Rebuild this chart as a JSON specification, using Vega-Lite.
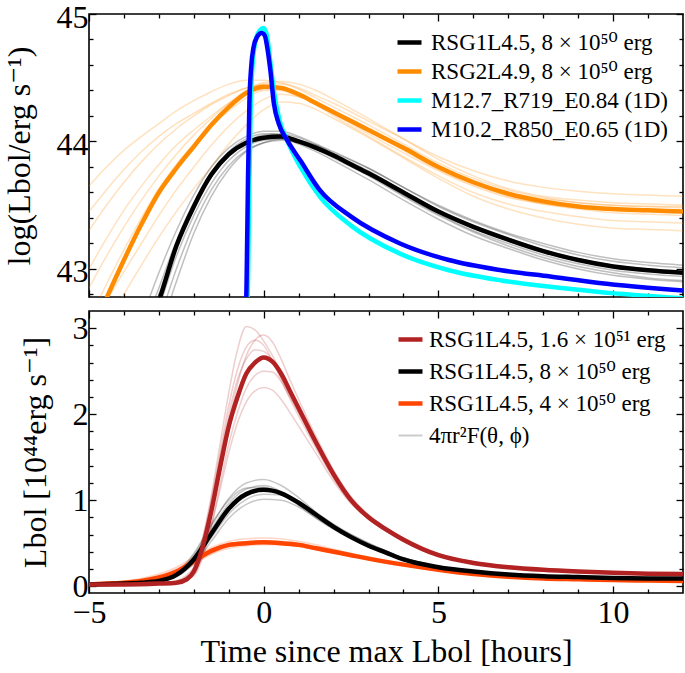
{
"$schema": "https://vega.github.io/schema/vega-lite/v6.json",
"padding": {"left": 2, "top": 0, "right": 2, "bottom": 0},
"config": {
 "view": {"stroke": "black", "strokeWidth": 1.6},
 "font": "Liberation Serif, DejaVu Serif, serif",
 "axis": {"grid": false, "domain": false, "tickColor": "black", "tickWidth": 1.3, "labelFont": "Liberation Serif, DejaVu Serif, serif", "labelFontSize": 32, "labelColor": "black", "labelFlush": false, "titleFont": "Liberation Serif, DejaVu Serif, serif", "titleFontSize": 32, "titleFontWeight": "normal", "titleColor": "black", "labelPadding": 8},
 "legend": {"orient": "top-right", "offset": 12, "padding": 2, "labelFont": "Liberation Serif, DejaVu Serif, serif", "labelFontSize": 23, "labelColor": "black", "symbolType": "stroke", "symbolSize": 576, "symbolStrokeWidth": 4.5, "symbolOpacity": 1, "labelOffset": 7, "labelLimit": 400}
},
"datasets": {
"top": [
{"series":"K8","run":"main","t":-3.5,"L":42.4},{"series":"K8","run":"main","t":-3,"L":42.75},{"series":"K8","run":"main","t":-2.5,"L":43.18},{"series":"K8","run":"main","t":-2,"L":43.49},{"series":"K8","run":"main","t":-1.5,"L":43.74},{"series":"K8","run":"main","t":-1,"L":43.9},{"series":"K8","run":"main","t":-0.5,"L":43.99},{"series":"K8","run":"main","t":0,"L":44.03},{"series":"K8","run":"main","t":0.5,"L":44.04},{"series":"K8","run":"main","t":1,"L":44.0},{"series":"K8","run":"main","t":1.5,"L":43.95},{"series":"K8","run":"main","t":2,"L":43.89},{"series":"K8","run":"main","t":2.5,"L":43.82},{"series":"K8","run":"main","t":3,"L":43.75},{"series":"K8","run":"main","t":4,"L":43.6},{"series":"K8","run":"main","t":5,"L":43.45},{"series":"K8","run":"main","t":6,"L":43.33},{"series":"K8","run":"main","t":7,"L":43.23},{"series":"K8","run":"main","t":8,"L":43.14},{"series":"K8","run":"main","t":9,"L":43.07},{"series":"K8","run":"main","t":10,"L":43.02},{"series":"K8","run":"main","t":11,"L":42.99},{"series":"K8","run":"main","t":12,"L":42.97},
{"series":"O8","run":"main","t":-5,"L":42.45},{"series":"O8","run":"main","t":-4.5,"L":42.77},{"series":"O8","run":"main","t":-4,"L":43.07},{"series":"O8","run":"main","t":-3.5,"L":43.35},{"series":"O8","run":"main","t":-3,"L":43.6},{"series":"O8","run":"main","t":-2.5,"L":43.79},{"series":"O8","run":"main","t":-2,"L":43.96},{"series":"O8","run":"main","t":-1.5,"L":44.13},{"series":"O8","run":"main","t":-1,"L":44.27},{"series":"O8","run":"main","t":-0.5,"L":44.38},{"series":"O8","run":"main","t":0,"L":44.43},{"series":"O8","run":"main","t":0.5,"L":44.42},{"series":"O8","run":"main","t":1,"L":44.37},{"series":"O8","run":"main","t":1.5,"L":44.3},{"series":"O8","run":"main","t":2,"L":44.23},{"series":"O8","run":"main","t":2.5,"L":44.16},{"series":"O8","run":"main","t":3,"L":44.09},{"series":"O8","run":"main","t":4,"L":43.95},{"series":"O8","run":"main","t":5,"L":43.8},{"series":"O8","run":"main","t":6,"L":43.68},{"series":"O8","run":"main","t":7,"L":43.59},{"series":"O8","run":"main","t":8,"L":43.53},{"series":"O8","run":"main","t":9,"L":43.49},{"series":"O8","run":"main","t":10,"L":43.47},{"series":"O8","run":"main","t":11,"L":43.46},{"series":"O8","run":"main","t":12,"L":43.45},
{"series":"C","run":"main","t":-0.5,"L":42.3},{"series":"C","run":"main","t":-0.45,"L":42.9},{"series":"C","run":"main","t":-0.41,"L":43.7},{"series":"C","run":"main","t":-0.37,"L":44.3},{"series":"C","run":"main","t":-0.32,"L":44.6},{"series":"C","run":"main","t":-0.24,"L":44.78},{"series":"C","run":"main","t":-0.12,"L":44.87},{"series":"C","run":"main","t":0,"L":44.89},{"series":"C","run":"main","t":0.1,"L":44.82},{"series":"C","run":"main","t":0.2,"L":44.6},{"series":"C","run":"main","t":0.3,"L":44.38},{"series":"C","run":"main","t":0.45,"L":44.17},{"series":"C","run":"main","t":0.7,"L":43.99},{"series":"C","run":"main","t":1.05,"L":43.8},{"series":"C","run":"main","t":1.6,"L":43.57},{"series":"C","run":"main","t":2.5,"L":43.34},{"series":"C","run":"main","t":3.9,"L":43.12},{"series":"C","run":"main","t":5.3,"L":42.99},{"series":"C","run":"main","t":6.8,"L":42.91},{"series":"C","run":"main","t":8.2,"L":42.86},{"series":"C","run":"main","t":9.6,"L":42.82},{"series":"C","run":"main","t":12,"L":42.77},
{"series":"B","run":"main","t":-0.53,"L":42.3},{"series":"B","run":"main","t":-0.49,"L":42.9},{"series":"B","run":"main","t":-0.45,"L":43.7},{"series":"B","run":"main","t":-0.41,"L":44.3},{"series":"B","run":"main","t":-0.36,"L":44.58},{"series":"B","run":"main","t":-0.29,"L":44.74},{"series":"B","run":"main","t":-0.19,"L":44.82},{"series":"B","run":"main","t":-0.06,"L":44.85},{"series":"B","run":"main","t":0.03,"L":44.83},{"series":"B","run":"main","t":0.1,"L":44.74},{"series":"B","run":"main","t":0.19,"L":44.56},{"series":"B","run":"main","t":0.29,"L":44.3},{"series":"B","run":"main","t":0.43,"L":44.14},{"series":"B","run":"main","t":0.67,"L":44.01},{"series":"B","run":"main","t":1.05,"L":43.85},{"series":"B","run":"main","t":1.6,"L":43.62},{"series":"B","run":"main","t":2.5,"L":43.41},{"series":"B","run":"main","t":3.9,"L":43.2},{"series":"B","run":"main","t":5.3,"L":43.07},{"series":"B","run":"main","t":6.8,"L":42.99},{"series":"B","run":"main","t":8.2,"L":42.94},{"series":"B","run":"main","t":9.6,"L":42.89},{"series":"B","run":"main","t":12,"L":42.83},
{"series":"O8","run":"v1","t":-5,"L":43.65},{"series":"O8","run":"v1","t":-4.5,"L":43.8},{"series":"O8","run":"v1","t":-4,"L":43.93},{"series":"O8","run":"v1","t":-3.5,"L":44.04},{"series":"O8","run":"v1","t":-3,"L":44.14},{"series":"O8","run":"v1","t":-2.5,"L":44.24},{"series":"O8","run":"v1","t":-2,"L":44.32},{"series":"O8","run":"v1","t":-1.5,"L":44.39},{"series":"O8","run":"v1","t":-1,"L":44.45},{"series":"O8","run":"v1","t":-0.5,"L":44.48},{"series":"O8","run":"v1","t":0,"L":44.48},{"series":"O8","run":"v1","t":0.5,"L":44.46},{"series":"O8","run":"v1","t":1,"L":44.42},{"series":"O8","run":"v1","t":1.5,"L":44.36},{"series":"O8","run":"v1","t":2,"L":44.3},{"series":"O8","run":"v1","t":3,"L":44.16},{"series":"O8","run":"v1","t":4,"L":44.02},{"series":"O8","run":"v1","t":5,"L":43.88},{"series":"O8","run":"v1","t":6,"L":43.77},{"series":"O8","run":"v1","t":7,"L":43.69},{"series":"O8","run":"v1","t":8,"L":43.64},{"series":"O8","run":"v1","t":9,"L":43.61},{"series":"O8","run":"v1","t":10,"L":43.59},{"series":"O8","run":"v1","t":11,"L":43.58},{"series":"O8","run":"v1","t":12,"L":43.57},
{"series":"O8","run":"v2","t":-5,"L":43.3},{"series":"O8","run":"v2","t":-4.5,"L":43.5},{"series":"O8","run":"v2","t":-4,"L":43.68},{"series":"O8","run":"v2","t":-3.5,"L":43.84},{"series":"O8","run":"v2","t":-3,"L":43.98},{"series":"O8","run":"v2","t":-2.5,"L":44.1},{"series":"O8","run":"v2","t":-2,"L":44.2},{"series":"O8","run":"v2","t":-1.5,"L":44.29},{"series":"O8","run":"v2","t":-1,"L":44.36},{"series":"O8","run":"v2","t":-0.5,"L":44.42},{"series":"O8","run":"v2","t":0,"L":44.45},{"series":"O8","run":"v2","t":0.5,"L":44.45},{"series":"O8","run":"v2","t":1,"L":44.41},{"series":"O8","run":"v2","t":1.5,"L":44.34},{"series":"O8","run":"v2","t":2,"L":44.27},{"series":"O8","run":"v2","t":3,"L":44.13},{"series":"O8","run":"v2","t":4,"L":43.98},{"series":"O8","run":"v2","t":5,"L":43.83},{"series":"O8","run":"v2","t":6,"L":43.71},{"series":"O8","run":"v2","t":7,"L":43.62},{"series":"O8","run":"v2","t":8,"L":43.56},{"series":"O8","run":"v2","t":9,"L":43.52},{"series":"O8","run":"v2","t":10,"L":43.5},{"series":"O8","run":"v2","t":11,"L":43.49},{"series":"O8","run":"v2","t":12,"L":43.49},
{"series":"O8","run":"v3","t":-5,"L":43.0},{"series":"O8","run":"v3","t":-4.5,"L":43.24},{"series":"O8","run":"v3","t":-4,"L":43.46},{"series":"O8","run":"v3","t":-3.5,"L":43.65},{"series":"O8","run":"v3","t":-3,"L":43.82},{"series":"O8","run":"v3","t":-2.5,"L":43.97},{"series":"O8","run":"v3","t":-2,"L":44.09},{"series":"O8","run":"v3","t":-1.5,"L":44.2},{"series":"O8","run":"v3","t":-1,"L":44.3},{"series":"O8","run":"v3","t":-0.5,"L":44.37},{"series":"O8","run":"v3","t":0,"L":44.41},{"series":"O8","run":"v3","t":0.5,"L":44.42},{"series":"O8","run":"v3","t":1,"L":44.38},{"series":"O8","run":"v3","t":1.5,"L":44.31},{"series":"O8","run":"v3","t":2,"L":44.24},{"series":"O8","run":"v3","t":3,"L":44.09},{"series":"O8","run":"v3","t":4,"L":43.93},{"series":"O8","run":"v3","t":5,"L":43.78},{"series":"O8","run":"v3","t":6,"L":43.66},{"series":"O8","run":"v3","t":7,"L":43.57},{"series":"O8","run":"v3","t":8,"L":43.51},{"series":"O8","run":"v3","t":9,"L":43.47},{"series":"O8","run":"v3","t":10,"L":43.44},{"series":"O8","run":"v3","t":11,"L":43.43},{"series":"O8","run":"v3","t":12,"L":43.42},
{"series":"O8","run":"v4","t":-5,"L":42.3},{"series":"O8","run":"v4","t":-4.5,"L":42.55},{"series":"O8","run":"v4","t":-4,"L":42.8},{"series":"O8","run":"v4","t":-3.5,"L":43.03},{"series":"O8","run":"v4","t":-3,"L":43.25},{"series":"O8","run":"v4","t":-2.5,"L":43.45},{"series":"O8","run":"v4","t":-2,"L":43.63},{"series":"O8","run":"v4","t":-1.5,"L":43.8},{"series":"O8","run":"v4","t":-1,"L":43.98},{"series":"O8","run":"v4","t":-0.5,"L":44.13},{"series":"O8","run":"v4","t":0,"L":44.25},{"series":"O8","run":"v4","t":0.5,"L":44.31},{"series":"O8","run":"v4","t":1,"L":44.3},{"series":"O8","run":"v4","t":1.5,"L":44.25},{"series":"O8","run":"v4","t":2,"L":44.18},{"series":"O8","run":"v4","t":3,"L":44.03},{"series":"O8","run":"v4","t":4,"L":43.87},{"series":"O8","run":"v4","t":5,"L":43.71},{"series":"O8","run":"v4","t":6,"L":43.57},{"series":"O8","run":"v4","t":7,"L":43.47},{"series":"O8","run":"v4","t":8,"L":43.4},{"series":"O8","run":"v4","t":9,"L":43.35},{"series":"O8","run":"v4","t":10,"L":43.32},{"series":"O8","run":"v4","t":11,"L":43.31},{"series":"O8","run":"v4","t":12,"L":43.3},
{"series":"O8","run":"v5","t":-5,"L":42.6},{"series":"O8","run":"v5","t":-4.5,"L":42.88},{"series":"O8","run":"v5","t":-4,"L":43.15},{"series":"O8","run":"v5","t":-3.5,"L":43.4},{"series":"O8","run":"v5","t":-3,"L":43.63},{"series":"O8","run":"v5","t":-2.5,"L":43.82},{"series":"O8","run":"v5","t":-2,"L":43.98},{"series":"O8","run":"v5","t":-1.5,"L":44.12},{"series":"O8","run":"v5","t":-1,"L":44.24},{"series":"O8","run":"v5","t":-0.5,"L":44.34},{"series":"O8","run":"v5","t":0,"L":44.4},{"series":"O8","run":"v5","t":0.5,"L":44.4},{"series":"O8","run":"v5","t":1,"L":44.35},{"series":"O8","run":"v5","t":1.5,"L":44.3},{"series":"O8","run":"v5","t":2,"L":44.22},{"series":"O8","run":"v5","t":3,"L":44.08},{"series":"O8","run":"v5","t":4,"L":43.94},{"series":"O8","run":"v5","t":5,"L":43.8},{"series":"O8","run":"v5","t":6,"L":43.68},{"series":"O8","run":"v5","t":7,"L":43.6},{"series":"O8","run":"v5","t":8,"L":43.55},{"series":"O8","run":"v5","t":9,"L":43.52},{"series":"O8","run":"v5","t":10,"L":43.5},{"series":"O8","run":"v5","t":11,"L":43.49},{"series":"O8","run":"v5","t":12,"L":43.48},
{"series":"O8","run":"v6","t":-5,"L":42.85},{"series":"O8","run":"v6","t":-4.5,"L":43.1},{"series":"O8","run":"v6","t":-4,"L":43.33},{"series":"O8","run":"v6","t":-3.5,"L":43.54},{"series":"O8","run":"v6","t":-3,"L":43.73},{"series":"O8","run":"v6","t":-2.5,"L":43.9},{"series":"O8","run":"v6","t":-2,"L":44.05},{"series":"O8","run":"v6","t":-1.5,"L":44.18},{"series":"O8","run":"v6","t":-1,"L":44.3},{"series":"O8","run":"v6","t":-0.5,"L":44.4},{"series":"O8","run":"v6","t":0,"L":44.46},{"series":"O8","run":"v6","t":0.5,"L":44.47},{"series":"O8","run":"v6","t":1,"L":44.45},{"series":"O8","run":"v6","t":1.5,"L":44.4},{"series":"O8","run":"v6","t":2,"L":44.33},{"series":"O8","run":"v6","t":3,"L":44.18},{"series":"O8","run":"v6","t":4,"L":44.02},{"series":"O8","run":"v6","t":5,"L":43.86},{"series":"O8","run":"v6","t":6,"L":43.73},{"series":"O8","run":"v6","t":7,"L":43.63},{"series":"O8","run":"v6","t":8,"L":43.57},{"series":"O8","run":"v6","t":9,"L":43.54},{"series":"O8","run":"v6","t":10,"L":43.52},{"series":"O8","run":"v6","t":11,"L":43.51},{"series":"O8","run":"v6","t":12,"L":43.5},
{"series":"O8","run":"v7","t":-5,"L":42.5},{"series":"O8","run":"v7","t":-4.5,"L":42.75},{"series":"O8","run":"v7","t":-4,"L":42.98},{"series":"O8","run":"v7","t":-3.5,"L":43.2},{"series":"O8","run":"v7","t":-3,"L":43.42},{"series":"O8","run":"v7","t":-2.5,"L":43.62},{"series":"O8","run":"v7","t":-2,"L":43.8},{"series":"O8","run":"v7","t":-1.5,"L":43.97},{"series":"O8","run":"v7","t":-1,"L":44.12},{"series":"O8","run":"v7","t":-0.5,"L":44.24},{"series":"O8","run":"v7","t":0,"L":44.33},{"series":"O8","run":"v7","t":0.5,"L":44.37},{"series":"O8","run":"v7","t":1,"L":44.35},{"series":"O8","run":"v7","t":1.5,"L":44.29},{"series":"O8","run":"v7","t":2,"L":44.2},{"series":"O8","run":"v7","t":3,"L":44.04},{"series":"O8","run":"v7","t":4,"L":43.88},{"series":"O8","run":"v7","t":5,"L":43.73},{"series":"O8","run":"v7","t":6,"L":43.6},{"series":"O8","run":"v7","t":7,"L":43.51},{"series":"O8","run":"v7","t":8,"L":43.45},{"series":"O8","run":"v7","t":9,"L":43.41},{"series":"O8","run":"v7","t":10,"L":43.38},{"series":"O8","run":"v7","t":11,"L":43.37},{"series":"O8","run":"v7","t":12,"L":43.36},
{"series":"O8","run":"v8","t":-5,"L":43.45},{"series":"O8","run":"v8","t":-4.5,"L":43.62},{"series":"O8","run":"v8","t":-4,"L":43.78},{"series":"O8","run":"v8","t":-3.5,"L":43.92},{"series":"O8","run":"v8","t":-3,"L":44.04},{"series":"O8","run":"v8","t":-2.5,"L":44.14},{"series":"O8","run":"v8","t":-2,"L":44.22},{"series":"O8","run":"v8","t":-1.5,"L":44.3},{"series":"O8","run":"v8","t":-1,"L":44.37},{"series":"O8","run":"v8","t":-0.5,"L":44.42},{"series":"O8","run":"v8","t":0,"L":44.44},{"series":"O8","run":"v8","t":0.5,"L":44.42},{"series":"O8","run":"v8","t":1,"L":44.37},{"series":"O8","run":"v8","t":1.5,"L":44.3},{"series":"O8","run":"v8","t":2,"L":44.22},{"series":"O8","run":"v8","t":3,"L":44.06},{"series":"O8","run":"v8","t":4,"L":43.91},{"series":"O8","run":"v8","t":5,"L":43.77},{"series":"O8","run":"v8","t":6,"L":43.65},{"series":"O8","run":"v8","t":7,"L":43.56},{"series":"O8","run":"v8","t":8,"L":43.51},{"series":"O8","run":"v8","t":9,"L":43.48},{"series":"O8","run":"v8","t":10,"L":43.46},{"series":"O8","run":"v8","t":11,"L":43.45},{"series":"O8","run":"v8","t":12,"L":43.44},
{"series":"K8","run":"v1","t":-3.5,"L":42.6},{"series":"K8","run":"v1","t":-3,"L":42.97},{"series":"K8","run":"v1","t":-2.5,"L":43.3},{"series":"K8","run":"v1","t":-2,"L":43.58},{"series":"K8","run":"v1","t":-1.5,"L":43.8},{"series":"K8","run":"v1","t":-1,"L":43.95},{"series":"K8","run":"v1","t":-0.5,"L":44.04},{"series":"K8","run":"v1","t":0,"L":44.08},{"series":"K8","run":"v1","t":0.5,"L":44.08},{"series":"K8","run":"v1","t":1,"L":44.04},{"series":"K8","run":"v1","t":1.5,"L":43.98},{"series":"K8","run":"v1","t":2,"L":43.92},{"series":"K8","run":"v1","t":3,"L":43.79},{"series":"K8","run":"v1","t":4,"L":43.64},{"series":"K8","run":"v1","t":5,"L":43.49},{"series":"K8","run":"v1","t":6,"L":43.37},{"series":"K8","run":"v1","t":7,"L":43.27},{"series":"K8","run":"v1","t":8,"L":43.18},{"series":"K8","run":"v1","t":9,"L":43.11},{"series":"K8","run":"v1","t":10,"L":43.06},{"series":"K8","run":"v1","t":11,"L":43.03},{"series":"K8","run":"v1","t":12,"L":43.01},
{"series":"K8","run":"v2","t":-3.5,"L":42.3},{"series":"K8","run":"v2","t":-3,"L":42.6},{"series":"K8","run":"v2","t":-2.5,"L":43.0},{"series":"K8","run":"v2","t":-2,"L":43.35},{"series":"K8","run":"v2","t":-1.5,"L":43.62},{"series":"K8","run":"v2","t":-1,"L":43.81},{"series":"K8","run":"v2","t":-0.5,"L":43.93},{"series":"K8","run":"v2","t":0,"L":43.99},{"series":"K8","run":"v2","t":0.5,"L":44.01},{"series":"K8","run":"v2","t":1,"L":43.99},{"series":"K8","run":"v2","t":1.5,"L":43.94},{"series":"K8","run":"v2","t":2,"L":43.88},{"series":"K8","run":"v2","t":3,"L":43.74},{"series":"K8","run":"v2","t":4,"L":43.58},{"series":"K8","run":"v2","t":5,"L":43.43},{"series":"K8","run":"v2","t":6,"L":43.3},{"series":"K8","run":"v2","t":7,"L":43.2},{"series":"K8","run":"v2","t":8,"L":43.11},{"series":"K8","run":"v2","t":9,"L":43.04},{"series":"K8","run":"v2","t":10,"L":42.99},{"series":"K8","run":"v2","t":11,"L":42.96},{"series":"K8","run":"v2","t":12,"L":42.94},
{"series":"K8","run":"v3","t":-3.5,"L":42.5},{"series":"K8","run":"v3","t":-3,"L":42.85},{"series":"K8","run":"v3","t":-2.5,"L":43.22},{"series":"K8","run":"v3","t":-2,"L":43.52},{"series":"K8","run":"v3","t":-1.5,"L":43.75},{"series":"K8","run":"v3","t":-1,"L":43.92},{"series":"K8","run":"v3","t":-0.5,"L":44.02},{"series":"K8","run":"v3","t":0,"L":44.06},{"series":"K8","run":"v3","t":0.5,"L":44.05},{"series":"K8","run":"v3","t":1,"L":44.0},{"series":"K8","run":"v3","t":1.5,"L":43.94},{"series":"K8","run":"v3","t":2,"L":43.87},{"series":"K8","run":"v3","t":3,"L":43.73},{"series":"K8","run":"v3","t":4,"L":43.57},{"series":"K8","run":"v3","t":5,"L":43.42},{"series":"K8","run":"v3","t":6,"L":43.29},{"series":"K8","run":"v3","t":7,"L":43.18},{"series":"K8","run":"v3","t":8,"L":43.09},{"series":"K8","run":"v3","t":9,"L":43.02},{"series":"K8","run":"v3","t":10,"L":42.97},{"series":"K8","run":"v3","t":11,"L":42.93},{"series":"K8","run":"v3","t":12,"L":42.91},
{"series":"K8","run":"v4","t":-3.5,"L":42.2},{"series":"K8","run":"v4","t":-3,"L":42.5},{"series":"K8","run":"v4","t":-2.5,"L":42.9},{"series":"K8","run":"v4","t":-2,"L":43.28},{"series":"K8","run":"v4","t":-1.5,"L":43.57},{"series":"K8","run":"v4","t":-1,"L":43.78},{"series":"K8","run":"v4","t":-0.5,"L":43.92},{"series":"K8","run":"v4","t":0,"L":43.99},{"series":"K8","run":"v4","t":0.5,"L":44.02},{"series":"K8","run":"v4","t":1,"L":44.01},{"series":"K8","run":"v4","t":1.5,"L":43.97},{"series":"K8","run":"v4","t":2,"L":43.91},{"series":"K8","run":"v4","t":3,"L":43.79},{"series":"K8","run":"v4","t":4,"L":43.64},{"series":"K8","run":"v4","t":5,"L":43.5},{"series":"K8","run":"v4","t":6,"L":43.38},{"series":"K8","run":"v4","t":7,"L":43.28},{"series":"K8","run":"v4","t":8,"L":43.2},{"series":"K8","run":"v4","t":9,"L":43.13},{"series":"K8","run":"v4","t":10,"L":43.08},{"series":"K8","run":"v4","t":11,"L":43.05},{"series":"K8","run":"v4","t":12,"L":43.03},
{"series":"K8","run":"v5","t":-3.5,"L":42.45},{"series":"K8","run":"v5","t":-3,"L":42.8},{"series":"K8","run":"v5","t":-2.5,"L":43.18},{"series":"K8","run":"v5","t":-2,"L":43.49},{"series":"K8","run":"v5","t":-1.5,"L":43.72},{"series":"K8","run":"v5","t":-1,"L":43.89},{"series":"K8","run":"v5","t":-0.5,"L":44.0},{"series":"K8","run":"v5","t":0,"L":44.05},{"series":"K8","run":"v5","t":0.5,"L":44.06},{"series":"K8","run":"v5","t":1,"L":44.03},{"series":"K8","run":"v5","t":1.5,"L":43.97},{"series":"K8","run":"v5","t":2,"L":43.9},{"series":"K8","run":"v5","t":3,"L":43.77},{"series":"K8","run":"v5","t":4,"L":43.61},{"series":"K8","run":"v5","t":5,"L":43.46},{"series":"K8","run":"v5","t":6,"L":43.34},{"series":"K8","run":"v5","t":7,"L":43.24},{"series":"K8","run":"v5","t":8,"L":43.15},{"series":"K8","run":"v5","t":9,"L":43.08},{"series":"K8","run":"v5","t":10,"L":43.03},{"series":"K8","run":"v5","t":11,"L":43.0},{"series":"K8","run":"v5","t":12,"L":42.98},
{"series":"K8","run":"v6","t":-3.5,"L":42.35},{"series":"K8","run":"v6","t":-3,"L":42.7},{"series":"K8","run":"v6","t":-2.5,"L":43.1},{"series":"K8","run":"v6","t":-2,"L":43.42},{"series":"K8","run":"v6","t":-1.5,"L":43.67},{"series":"K8","run":"v6","t":-1,"L":43.85},{"series":"K8","run":"v6","t":-0.5,"L":43.96},{"series":"K8","run":"v6","t":0,"L":44.01},{"series":"K8","run":"v6","t":0.5,"L":44.02},{"series":"K8","run":"v6","t":1,"L":43.98},{"series":"K8","run":"v6","t":1.5,"L":43.92},{"series":"K8","run":"v6","t":2,"L":43.85},{"series":"K8","run":"v6","t":3,"L":43.7},{"series":"K8","run":"v6","t":4,"L":43.54},{"series":"K8","run":"v6","t":5,"L":43.39},{"series":"K8","run":"v6","t":6,"L":43.26},{"series":"K8","run":"v6","t":7,"L":43.16},{"series":"K8","run":"v6","t":8,"L":43.07},{"series":"K8","run":"v6","t":9,"L":43.0},{"series":"K8","run":"v6","t":10,"L":42.95},{"series":"K8","run":"v6","t":11,"L":42.92},{"series":"K8","run":"v6","t":12,"L":42.9}
],
"bot": [
{"series":"F4","run":"main","t":-5,"L":0.02},{"series":"F4","run":"main","t":-4.5,"L":0.03},{"series":"F4","run":"main","t":-4,"L":0.04},{"series":"F4","run":"main","t":-3.5,"L":0.06},{"series":"F4","run":"main","t":-3,"L":0.1},{"series":"F4","run":"main","t":-2.5,"L":0.17},{"series":"F4","run":"main","t":-2,"L":0.29},{"series":"F4","run":"main","t":-1.5,"L":0.41},{"series":"F4","run":"main","t":-1,"L":0.48},{"series":"F4","run":"main","t":-0.5,"L":0.5},{"series":"F4","run":"main","t":0,"L":0.51},{"series":"F4","run":"main","t":0.5,"L":0.5},{"series":"F4","run":"main","t":1,"L":0.48},{"series":"F4","run":"main","t":1.5,"L":0.44},{"series":"F4","run":"main","t":2,"L":0.4},{"series":"F4","run":"main","t":2.5,"L":0.36},{"series":"F4","run":"main","t":3,"L":0.32},{"series":"F4","run":"main","t":4,"L":0.25},{"series":"F4","run":"main","t":5,"L":0.19},{"series":"F4","run":"main","t":6,"L":0.14},{"series":"F4","run":"main","t":7,"L":0.11},{"series":"F4","run":"main","t":8,"L":0.09},{"series":"F4","run":"main","t":9,"L":0.08},{"series":"F4","run":"main","t":10,"L":0.07},{"series":"F4","run":"main","t":11,"L":0.065},{"series":"F4","run":"main","t":12,"L":0.06},
{"series":"K8","run":"main","t":-5,"L":0.02},{"series":"K8","run":"main","t":-4,"L":0.03},{"series":"K8","run":"main","t":-3.5,"L":0.04},{"series":"K8","run":"main","t":-3,"L":0.06},{"series":"K8","run":"main","t":-2.5,"L":0.13},{"series":"K8","run":"main","t":-2,"L":0.31},{"series":"K8","run":"main","t":-1.5,"L":0.61},{"series":"K8","run":"main","t":-1,"L":0.9},{"series":"K8","run":"main","t":-0.5,"L":1.07},{"series":"K8","run":"main","t":0,"L":1.12},{"series":"K8","run":"main","t":0.5,"L":1.08},{"series":"K8","run":"main","t":1,"L":0.97},{"series":"K8","run":"main","t":1.5,"L":0.83},{"series":"K8","run":"main","t":2,"L":0.69},{"series":"K8","run":"main","t":2.5,"L":0.57},{"series":"K8","run":"main","t":3,"L":0.47},{"series":"K8","run":"main","t":3.5,"L":0.39},{"series":"K8","run":"main","t":4,"L":0.31},{"series":"K8","run":"main","t":5,"L":0.22},{"series":"K8","run":"main","t":6,"L":0.17},{"series":"K8","run":"main","t":7,"L":0.135},{"series":"K8","run":"main","t":8,"L":0.115},{"series":"K8","run":"main","t":9,"L":0.105},{"series":"K8","run":"main","t":10,"L":0.095},{"series":"K8","run":"main","t":11,"L":0.09},{"series":"K8","run":"main","t":12,"L":0.088},
{"series":"R16","run":"main","t":-5,"L":0.02},{"series":"R16","run":"main","t":-4,"L":0.02},{"series":"R16","run":"main","t":-3,"L":0.03},{"series":"R16","run":"main","t":-2.5,"L":0.04},{"series":"R16","run":"main","t":-2.2,"L":0.08},{"series":"R16","run":"main","t":-2,"L":0.17},{"series":"R16","run":"main","t":-1.75,"L":0.45},{"series":"R16","run":"main","t":-1.5,"L":0.87},{"series":"R16","run":"main","t":-1.25,"L":1.38},{"series":"R16","run":"main","t":-1,"L":1.86},{"series":"R16","run":"main","t":-0.75,"L":2.2},{"series":"R16","run":"main","t":-0.5,"L":2.47},{"series":"R16","run":"main","t":-0.25,"L":2.6},{"series":"R16","run":"main","t":0,"L":2.66},{"series":"R16","run":"main","t":0.25,"L":2.61},{"series":"R16","run":"main","t":0.5,"L":2.47},{"series":"R16","run":"main","t":0.75,"L":2.27},{"series":"R16","run":"main","t":1,"L":2.07},{"series":"R16","run":"main","t":1.5,"L":1.67},{"series":"R16","run":"main","t":2,"L":1.3},{"series":"R16","run":"main","t":2.5,"L":1.0},{"series":"R16","run":"main","t":3,"L":0.8},{"series":"R16","run":"main","t":3.5,"L":0.66},{"series":"R16","run":"main","t":4,"L":0.54},{"series":"R16","run":"main","t":5,"L":0.36},{"series":"R16","run":"main","t":6,"L":0.27},{"series":"R16","run":"main","t":7,"L":0.22},{"series":"R16","run":"main","t":8,"L":0.19},{"series":"R16","run":"main","t":9,"L":0.17},{"series":"R16","run":"main","t":10,"L":0.155},{"series":"R16","run":"main","t":11,"L":0.145},{"series":"R16","run":"main","t":12,"L":0.14},
{"series":"R16","run":"v1","t":-5,"L":0.02},{"series":"R16","run":"v1","t":-3,"L":0.03},{"series":"R16","run":"v1","t":-2.5,"L":0.05},{"series":"R16","run":"v1","t":-2,"L":0.2},{"series":"R16","run":"v1","t":-1.75,"L":0.55},{"series":"R16","run":"v1","t":-1.5,"L":1.05},{"series":"R16","run":"v1","t":-1.25,"L":1.65},{"series":"R16","run":"v1","t":-1,"L":2.25},{"series":"R16","run":"v1","t":-0.75,"L":2.75},{"series":"R16","run":"v1","t":-0.5,"L":3.02},{"series":"R16","run":"v1","t":-0.25,"L":2.98},{"series":"R16","run":"v1","t":0,"L":2.85},{"series":"R16","run":"v1","t":0.25,"L":2.68},{"series":"R16","run":"v1","t":0.5,"L":2.48},{"series":"R16","run":"v1","t":0.75,"L":2.27},{"series":"R16","run":"v1","t":1,"L":2.07},{"series":"R16","run":"v1","t":1.5,"L":1.68},{"series":"R16","run":"v1","t":2,"L":1.3},{"series":"R16","run":"v1","t":2.5,"L":1.01},{"series":"R16","run":"v1","t":3,"L":0.81},{"series":"R16","run":"v1","t":3.5,"L":0.67},{"series":"R16","run":"v1","t":4,"L":0.55},{"series":"R16","run":"v1","t":5,"L":0.37},{"series":"R16","run":"v1","t":6,"L":0.28},{"series":"R16","run":"v1","t":7,"L":0.23},{"series":"R16","run":"v1","t":8,"L":0.2},{"series":"R16","run":"v1","t":9,"L":0.18},{"series":"R16","run":"v1","t":10,"L":0.16},{"series":"R16","run":"v1","t":11,"L":0.15},{"series":"R16","run":"v1","t":12,"L":0.145},
{"series":"R16","run":"v2","t":-5,"L":0.02},{"series":"R16","run":"v2","t":-3,"L":0.03},{"series":"R16","run":"v2","t":-2.5,"L":0.05},{"series":"R16","run":"v2","t":-2,"L":0.15},{"series":"R16","run":"v2","t":-1.75,"L":0.4},{"series":"R16","run":"v2","t":-1.5,"L":0.82},{"series":"R16","run":"v2","t":-1.25,"L":1.35},{"series":"R16","run":"v2","t":-1,"L":1.9},{"series":"R16","run":"v2","t":-0.75,"L":2.35},{"series":"R16","run":"v2","t":-0.5,"L":2.68},{"series":"R16","run":"v2","t":-0.25,"L":2.86},{"series":"R16","run":"v2","t":0,"L":2.92},{"series":"R16","run":"v2","t":0.25,"L":2.84},{"series":"R16","run":"v2","t":0.5,"L":2.64},{"series":"R16","run":"v2","t":0.75,"L":2.4},{"series":"R16","run":"v2","t":1,"L":2.17},{"series":"R16","run":"v2","t":1.5,"L":1.74},{"series":"R16","run":"v2","t":2,"L":1.35},{"series":"R16","run":"v2","t":2.5,"L":1.04},{"series":"R16","run":"v2","t":3,"L":0.83},{"series":"R16","run":"v2","t":3.5,"L":0.68},{"series":"R16","run":"v2","t":4,"L":0.56},{"series":"R16","run":"v2","t":5,"L":0.38},{"series":"R16","run":"v2","t":6,"L":0.28},{"series":"R16","run":"v2","t":7,"L":0.23},{"series":"R16","run":"v2","t":8,"L":0.2},{"series":"R16","run":"v2","t":9,"L":0.18},{"series":"R16","run":"v2","t":10,"L":0.16},{"series":"R16","run":"v2","t":11,"L":0.15},{"series":"R16","run":"v2","t":12,"L":0.145},
{"series":"R16","run":"v3","t":-5,"L":0.02},{"series":"R16","run":"v3","t":-3,"L":0.03},{"series":"R16","run":"v3","t":-2.5,"L":0.05},{"series":"R16","run":"v3","t":-2,"L":0.14},{"series":"R16","run":"v3","t":-1.75,"L":0.35},{"series":"R16","run":"v3","t":-1.5,"L":0.7},{"series":"R16","run":"v3","t":-1.25,"L":1.12},{"series":"R16","run":"v3","t":-1,"L":1.55},{"series":"R16","run":"v3","t":-0.75,"L":1.9},{"series":"R16","run":"v3","t":-0.5,"L":2.14},{"series":"R16","run":"v3","t":-0.25,"L":2.27},{"series":"R16","run":"v3","t":0,"L":2.31},{"series":"R16","run":"v3","t":0.25,"L":2.28},{"series":"R16","run":"v3","t":0.5,"L":2.17},{"series":"R16","run":"v3","t":0.75,"L":2.02},{"series":"R16","run":"v3","t":1,"L":1.86},{"series":"R16","run":"v3","t":1.5,"L":1.54},{"series":"R16","run":"v3","t":2,"L":1.22},{"series":"R16","run":"v3","t":2.5,"L":0.96},{"series":"R16","run":"v3","t":3,"L":0.78},{"series":"R16","run":"v3","t":3.5,"L":0.64},{"series":"R16","run":"v3","t":4,"L":0.52},{"series":"R16","run":"v3","t":5,"L":0.35},{"series":"R16","run":"v3","t":6,"L":0.26},{"series":"R16","run":"v3","t":7,"L":0.21},{"series":"R16","run":"v3","t":8,"L":0.18},{"series":"R16","run":"v3","t":9,"L":0.165},{"series":"R16","run":"v3","t":10,"L":0.15},{"series":"R16","run":"v3","t":11,"L":0.14},{"series":"R16","run":"v3","t":12,"L":0.135},
{"series":"R16","run":"v4","t":-5,"L":0.02},{"series":"R16","run":"v4","t":-3,"L":0.03},{"series":"R16","run":"v4","t":-2.5,"L":0.05},{"series":"R16","run":"v4","t":-2,"L":0.18},{"series":"R16","run":"v4","t":-1.75,"L":0.5},{"series":"R16","run":"v4","t":-1.5,"L":0.95},{"series":"R16","run":"v4","t":-1.25,"L":1.5},{"series":"R16","run":"v4","t":-1,"L":2.0},{"series":"R16","run":"v4","t":-0.75,"L":2.4},{"series":"R16","run":"v4","t":-0.5,"L":2.64},{"series":"R16","run":"v4","t":-0.25,"L":2.75},{"series":"R16","run":"v4","t":0,"L":2.73},{"series":"R16","run":"v4","t":0.25,"L":2.63},{"series":"R16","run":"v4","t":0.5,"L":2.45},{"series":"R16","run":"v4","t":0.75,"L":2.24},{"series":"R16","run":"v4","t":1,"L":2.03},{"series":"R16","run":"v4","t":1.5,"L":1.63},{"series":"R16","run":"v4","t":2,"L":1.27},{"series":"R16","run":"v4","t":2.5,"L":0.98},{"series":"R16","run":"v4","t":3,"L":0.79},{"series":"R16","run":"v4","t":3.5,"L":0.65},{"series":"R16","run":"v4","t":4,"L":0.53},{"series":"R16","run":"v4","t":5,"L":0.36},{"series":"R16","run":"v4","t":6,"L":0.27},{"series":"R16","run":"v4","t":7,"L":0.22},{"series":"R16","run":"v4","t":8,"L":0.19},{"series":"R16","run":"v4","t":9,"L":0.17},{"series":"R16","run":"v4","t":10,"L":0.155},{"series":"R16","run":"v4","t":11,"L":0.145},{"series":"R16","run":"v4","t":12,"L":0.14},
{"series":"R16","run":"v5","t":-5,"L":0.02},{"series":"R16","run":"v5","t":-3,"L":0.03},{"series":"R16","run":"v5","t":-2.5,"L":0.05},{"series":"R16","run":"v5","t":-2,"L":0.12},{"series":"R16","run":"v5","t":-1.75,"L":0.33},{"series":"R16","run":"v5","t":-1.5,"L":0.7},{"series":"R16","run":"v5","t":-1.25,"L":1.18},{"series":"R16","run":"v5","t":-1,"L":1.65},{"series":"R16","run":"v5","t":-0.75,"L":2.02},{"series":"R16","run":"v5","t":-0.5,"L":2.3},{"series":"R16","run":"v5","t":-0.25,"L":2.45},{"series":"R16","run":"v5","t":0,"L":2.5},{"series":"R16","run":"v5","t":0.25,"L":2.49},{"series":"R16","run":"v5","t":0.5,"L":2.38},{"series":"R16","run":"v5","t":0.75,"L":2.2},{"series":"R16","run":"v5","t":1,"L":2.02},{"series":"R16","run":"v5","t":1.5,"L":1.65},{"series":"R16","run":"v5","t":2,"L":1.3},{"series":"R16","run":"v5","t":2.5,"L":1.02},{"series":"R16","run":"v5","t":3,"L":0.82},{"series":"R16","run":"v5","t":3.5,"L":0.68},{"series":"R16","run":"v5","t":4,"L":0.55},{"series":"R16","run":"v5","t":5,"L":0.37},{"series":"R16","run":"v5","t":6,"L":0.28},{"series":"R16","run":"v5","t":7,"L":0.22},{"series":"R16","run":"v5","t":8,"L":0.19},{"series":"R16","run":"v5","t":9,"L":0.17},{"series":"R16","run":"v5","t":10,"L":0.16},{"series":"R16","run":"v5","t":11,"L":0.15},{"series":"R16","run":"v5","t":12,"L":0.14},
{"series":"R16","run":"v6","t":-5,"L":0.02},{"series":"R16","run":"v6","t":-3,"L":0.03},{"series":"R16","run":"v6","t":-2.5,"L":0.06},{"series":"R16","run":"v6","t":-2,"L":0.22},{"series":"R16","run":"v6","t":-1.75,"L":0.55},{"series":"R16","run":"v6","t":-1.5,"L":1.0},{"series":"R16","run":"v6","t":-1.25,"L":1.55},{"series":"R16","run":"v6","t":-1,"L":2.1},{"series":"R16","run":"v6","t":-0.75,"L":2.52},{"series":"R16","run":"v6","t":-0.5,"L":2.78},{"series":"R16","run":"v6","t":-0.25,"L":2.86},{"series":"R16","run":"v6","t":0,"L":2.8},{"series":"R16","run":"v6","t":0.25,"L":2.62},{"series":"R16","run":"v6","t":0.5,"L":2.4},{"series":"R16","run":"v6","t":0.75,"L":2.18},{"series":"R16","run":"v6","t":1,"L":1.98},{"series":"R16","run":"v6","t":1.5,"L":1.6},{"series":"R16","run":"v6","t":2,"L":1.25},{"series":"R16","run":"v6","t":2.5,"L":0.97},{"series":"R16","run":"v6","t":3,"L":0.78},{"series":"R16","run":"v6","t":3.5,"L":0.64},{"series":"R16","run":"v6","t":4,"L":0.52},{"series":"R16","run":"v6","t":5,"L":0.35},{"series":"R16","run":"v6","t":6,"L":0.26},{"series":"R16","run":"v6","t":7,"L":0.21},{"series":"R16","run":"v6","t":8,"L":0.185},{"series":"R16","run":"v6","t":9,"L":0.165},{"series":"R16","run":"v6","t":10,"L":0.15},{"series":"R16","run":"v6","t":11,"L":0.14},{"series":"R16","run":"v6","t":12,"L":0.135},
{"series":"K8","run":"v1","t":-5,"L":0.02},{"series":"K8","run":"v1","t":-4,"L":0.03},{"series":"K8","run":"v1","t":-3,"L":0.07},{"series":"K8","run":"v1","t":-2.5,"L":0.15},{"series":"K8","run":"v1","t":-2,"L":0.36},{"series":"K8","run":"v1","t":-1.5,"L":0.7},{"series":"K8","run":"v1","t":-1,"L":1.02},{"series":"K8","run":"v1","t":-0.5,"L":1.2},{"series":"K8","run":"v1","t":0,"L":1.24},{"series":"K8","run":"v1","t":0.5,"L":1.17},{"series":"K8","run":"v1","t":1,"L":1.03},{"series":"K8","run":"v1","t":1.5,"L":0.86},{"series":"K8","run":"v1","t":2,"L":0.72},{"series":"K8","run":"v1","t":2.5,"L":0.6},{"series":"K8","run":"v1","t":3,"L":0.5},{"series":"K8","run":"v1","t":3.5,"L":0.41},{"series":"K8","run":"v1","t":4,"L":0.33},{"series":"K8","run":"v1","t":5,"L":0.23},{"series":"K8","run":"v1","t":6,"L":0.18},{"series":"K8","run":"v1","t":7,"L":0.14},{"series":"K8","run":"v1","t":8,"L":0.12},{"series":"K8","run":"v1","t":9,"L":0.11},{"series":"K8","run":"v1","t":10,"L":0.1},{"series":"K8","run":"v1","t":11,"L":0.095},{"series":"K8","run":"v1","t":12,"L":0.09},
{"series":"K8","run":"v2","t":-5,"L":0.02},{"series":"K8","run":"v2","t":-4,"L":0.03},{"series":"K8","run":"v2","t":-3,"L":0.05},{"series":"K8","run":"v2","t":-2.5,"L":0.11},{"series":"K8","run":"v2","t":-2,"L":0.26},{"series":"K8","run":"v2","t":-1.5,"L":0.52},{"series":"K8","run":"v2","t":-1,"L":0.79},{"series":"K8","run":"v2","t":-0.5,"L":0.95},{"series":"K8","run":"v2","t":0,"L":1.01},{"series":"K8","run":"v2","t":0.5,"L":1.0},{"series":"K8","run":"v2","t":1,"L":0.92},{"series":"K8","run":"v2","t":1.5,"L":0.79},{"series":"K8","run":"v2","t":2,"L":0.67},{"series":"K8","run":"v2","t":2.5,"L":0.57},{"series":"K8","run":"v2","t":3,"L":0.47},{"series":"K8","run":"v2","t":3.5,"L":0.39},{"series":"K8","run":"v2","t":4,"L":0.31},{"series":"K8","run":"v2","t":5,"L":0.22},{"series":"K8","run":"v2","t":6,"L":0.17},{"series":"K8","run":"v2","t":7,"L":0.135},{"series":"K8","run":"v2","t":8,"L":0.115},{"series":"K8","run":"v2","t":9,"L":0.1},{"series":"K8","run":"v2","t":10,"L":0.095},{"series":"K8","run":"v2","t":11,"L":0.09},{"series":"K8","run":"v2","t":12,"L":0.085},
{"series":"K8","run":"v3","t":-5,"L":0.02},{"series":"K8","run":"v3","t":-4,"L":0.03},{"series":"K8","run":"v3","t":-3,"L":0.06},{"series":"K8","run":"v3","t":-2.5,"L":0.14},{"series":"K8","run":"v3","t":-2,"L":0.34},{"series":"K8","run":"v3","t":-1.5,"L":0.66},{"series":"K8","run":"v3","t":-1,"L":0.96},{"series":"K8","run":"v3","t":-0.5,"L":1.13},{"series":"K8","run":"v3","t":0,"L":1.17},{"series":"K8","run":"v3","t":0.5,"L":1.1},{"series":"K8","run":"v3","t":1,"L":0.97},{"series":"K8","run":"v3","t":1.5,"L":0.82},{"series":"K8","run":"v3","t":2,"L":0.69},{"series":"K8","run":"v3","t":2.5,"L":0.58},{"series":"K8","run":"v3","t":3,"L":0.48},{"series":"K8","run":"v3","t":3.5,"L":0.4},{"series":"K8","run":"v3","t":4,"L":0.32},{"series":"K8","run":"v3","t":5,"L":0.225},{"series":"K8","run":"v3","t":6,"L":0.175},{"series":"K8","run":"v3","t":7,"L":0.14},{"series":"K8","run":"v3","t":8,"L":0.12},{"series":"K8","run":"v3","t":9,"L":0.105},{"series":"K8","run":"v3","t":10,"L":0.095},{"series":"K8","run":"v3","t":11,"L":0.09},{"series":"K8","run":"v3","t":12,"L":0.088},
{"series":"K8","run":"v4","t":-5,"L":0.02},{"series":"K8","run":"v4","t":-4,"L":0.03},{"series":"K8","run":"v4","t":-3,"L":0.05},{"series":"K8","run":"v4","t":-2.5,"L":0.12},{"series":"K8","run":"v4","t":-2,"L":0.28},{"series":"K8","run":"v4","t":-1.5,"L":0.56},{"series":"K8","run":"v4","t":-1,"L":0.84},{"series":"K8","run":"v4","t":-0.5,"L":1.01},{"series":"K8","run":"v4","t":0,"L":1.07},{"series":"K8","run":"v4","t":0.5,"L":1.06},{"series":"K8","run":"v4","t":1,"L":0.98},{"series":"K8","run":"v4","t":1.5,"L":0.84},{"series":"K8","run":"v4","t":2,"L":0.71},{"series":"K8","run":"v4","t":2.5,"L":0.6},{"series":"K8","run":"v4","t":3,"L":0.5},{"series":"K8","run":"v4","t":3.5,"L":0.41},{"series":"K8","run":"v4","t":4,"L":0.33},{"series":"K8","run":"v4","t":5,"L":0.23},{"series":"K8","run":"v4","t":6,"L":0.18},{"series":"K8","run":"v4","t":7,"L":0.14},{"series":"K8","run":"v4","t":8,"L":0.12},{"series":"K8","run":"v4","t":9,"L":0.105},{"series":"K8","run":"v4","t":10,"L":0.1},{"series":"K8","run":"v4","t":11,"L":0.095},{"series":"K8","run":"v4","t":12,"L":0.09},
{"series":"K8","run":"v5","t":-5,"L":0.02},{"series":"K8","run":"v5","t":-4,"L":0.03},{"series":"K8","run":"v5","t":-3,"L":0.07},{"series":"K8","run":"v5","t":-2.5,"L":0.16},{"series":"K8","run":"v5","t":-2,"L":0.38},{"series":"K8","run":"v5","t":-1.5,"L":0.72},{"series":"K8","run":"v5","t":-1,"L":1.0},{"series":"K8","run":"v5","t":-0.5,"L":1.14},{"series":"K8","run":"v5","t":0,"L":1.15},{"series":"K8","run":"v5","t":0.5,"L":1.07},{"series":"K8","run":"v5","t":1,"L":0.94},{"series":"K8","run":"v5","t":1.5,"L":0.79},{"series":"K8","run":"v5","t":2,"L":0.66},{"series":"K8","run":"v5","t":2.5,"L":0.55},{"series":"K8","run":"v5","t":3,"L":0.46},{"series":"K8","run":"v5","t":3.5,"L":0.38},{"series":"K8","run":"v5","t":4,"L":0.3},{"series":"K8","run":"v5","t":5,"L":0.21},{"series":"K8","run":"v5","t":6,"L":0.165},{"series":"K8","run":"v5","t":7,"L":0.13},{"series":"K8","run":"v5","t":8,"L":0.11},{"series":"K8","run":"v5","t":9,"L":0.1},{"series":"K8","run":"v5","t":10,"L":0.09},{"series":"K8","run":"v5","t":11,"L":0.085},{"series":"K8","run":"v5","t":12,"L":0.082},
{"series":"F4","run":"v1","t":-5,"L":0.03},{"series":"F4","run":"v1","t":-4.5,"L":0.04},{"series":"F4","run":"v1","t":-4,"L":0.06},{"series":"F4","run":"v1","t":-3.5,"L":0.09},{"series":"F4","run":"v1","t":-3,"L":0.14},{"series":"F4","run":"v1","t":-2.5,"L":0.22},{"series":"F4","run":"v1","t":-2,"L":0.34},{"series":"F4","run":"v1","t":-1.5,"L":0.45},{"series":"F4","run":"v1","t":-1,"L":0.52},{"series":"F4","run":"v1","t":-0.5,"L":0.55},{"series":"F4","run":"v1","t":0,"L":0.56},{"series":"F4","run":"v1","t":0.5,"L":0.55},{"series":"F4","run":"v1","t":1,"L":0.52},{"series":"F4","run":"v1","t":1.5,"L":0.48},{"series":"F4","run":"v1","t":2,"L":0.43},{"series":"F4","run":"v1","t":2.5,"L":0.38},{"series":"F4","run":"v1","t":3,"L":0.34},{"series":"F4","run":"v1","t":4,"L":0.26},{"series":"F4","run":"v1","t":5,"L":0.2},{"series":"F4","run":"v1","t":6,"L":0.15},{"series":"F4","run":"v1","t":7,"L":0.115},{"series":"F4","run":"v1","t":8,"L":0.095},{"series":"F4","run":"v1","t":9,"L":0.085},{"series":"F4","run":"v1","t":10,"L":0.075},{"series":"F4","run":"v1","t":11,"L":0.07},{"series":"F4","run":"v1","t":12,"L":0.065},
{"series":"F4","run":"v2","t":-5,"L":0.02},{"series":"F4","run":"v2","t":-4.5,"L":0.03},{"series":"F4","run":"v2","t":-4,"L":0.035},{"series":"F4","run":"v2","t":-3.5,"L":0.05},{"series":"F4","run":"v2","t":-3,"L":0.08},{"series":"F4","run":"v2","t":-2.5,"L":0.14},{"series":"F4","run":"v2","t":-2,"L":0.25},{"series":"F4","run":"v2","t":-1.5,"L":0.37},{"series":"F4","run":"v2","t":-1,"L":0.44},{"series":"F4","run":"v2","t":-0.5,"L":0.47},{"series":"F4","run":"v2","t":0,"L":0.48},{"series":"F4","run":"v2","t":0.5,"L":0.48},{"series":"F4","run":"v2","t":1,"L":0.46},{"series":"F4","run":"v2","t":1.5,"L":0.43},{"series":"F4","run":"v2","t":2,"L":0.39},{"series":"F4","run":"v2","t":2.5,"L":0.35},{"series":"F4","run":"v2","t":3,"L":0.31},{"series":"F4","run":"v2","t":4,"L":0.24},{"series":"F4","run":"v2","t":5,"L":0.18},{"series":"F4","run":"v2","t":6,"L":0.135},{"series":"F4","run":"v2","t":7,"L":0.105},{"series":"F4","run":"v2","t":8,"L":0.088},{"series":"F4","run":"v2","t":9,"L":0.078},{"series":"F4","run":"v2","t":10,"L":0.07},{"series":"F4","run":"v2","t":11,"L":0.064},{"series":"F4","run":"v2","t":12,"L":0.06},
{"series":"F4","run":"v3","t":-5,"L":0.03},{"series":"F4","run":"v3","t":-4.5,"L":0.04},{"series":"F4","run":"v3","t":-4,"L":0.05},{"series":"F4","run":"v3","t":-3.5,"L":0.08},{"series":"F4","run":"v3","t":-3,"L":0.12},{"series":"F4","run":"v3","t":-2.5,"L":0.2},{"series":"F4","run":"v3","t":-2,"L":0.32},{"series":"F4","run":"v3","t":-1.5,"L":0.43},{"series":"F4","run":"v3","t":-1,"L":0.49},{"series":"F4","run":"v3","t":-0.5,"L":0.51},{"series":"F4","run":"v3","t":0,"L":0.52},{"series":"F4","run":"v3","t":0.5,"L":0.51},{"series":"F4","run":"v3","t":1,"L":0.49},{"series":"F4","run":"v3","t":1.5,"L":0.45},{"series":"F4","run":"v3","t":2,"L":0.41},{"series":"F4","run":"v3","t":2.5,"L":0.36},{"series":"F4","run":"v3","t":3,"L":0.32},{"series":"F4","run":"v3","t":4,"L":0.25},{"series":"F4","run":"v3","t":5,"L":0.19},{"series":"F4","run":"v3","t":6,"L":0.14},{"series":"F4","run":"v3","t":7,"L":0.11},{"series":"F4","run":"v3","t":8,"L":0.09},{"series":"F4","run":"v3","t":9,"L":0.08},{"series":"F4","run":"v3","t":10,"L":0.072},{"series":"F4","run":"v3","t":11,"L":0.066},{"series":"F4","run":"v3","t":12,"L":0.062},
{"series":"F4","run":"v4","t":-5,"L":0.02},{"series":"F4","run":"v4","t":-4.5,"L":0.03},{"series":"F4","run":"v4","t":-4,"L":0.04},{"series":"F4","run":"v4","t":-3.5,"L":0.06},{"series":"F4","run":"v4","t":-3,"L":0.09},{"series":"F4","run":"v4","t":-2.5,"L":0.15},{"series":"F4","run":"v4","t":-2,"L":0.26},{"series":"F4","run":"v4","t":-1.5,"L":0.38},{"series":"F4","run":"v4","t":-1,"L":0.46},{"series":"F4","run":"v4","t":-0.5,"L":0.5},{"series":"F4","run":"v4","t":0,"L":0.52},{"series":"F4","run":"v4","t":0.5,"L":0.52},{"series":"F4","run":"v4","t":1,"L":0.5},{"series":"F4","run":"v4","t":1.5,"L":0.46},{"series":"F4","run":"v4","t":2,"L":0.42},{"series":"F4","run":"v4","t":2.5,"L":0.37},{"series":"F4","run":"v4","t":3,"L":0.33},{"series":"F4","run":"v4","t":4,"L":0.26},{"series":"F4","run":"v4","t":5,"L":0.2},{"series":"F4","run":"v4","t":6,"L":0.15},{"series":"F4","run":"v4","t":7,"L":0.115},{"series":"F4","run":"v4","t":8,"L":0.092},{"series":"F4","run":"v4","t":9,"L":0.082},{"series":"F4","run":"v4","t":10,"L":0.074},{"series":"F4","run":"v4","t":11,"L":0.068},{"series":"F4","run":"v4","t":12,"L":0.064}
]
},
"spacing": 14,
"bounds": "flush",
"resolve": {"scale": {"color": "independent"}, "legend": {"color": "independent"}},
"vconcat": [
{
 "width": 594, "height": 283,
 "data": {"name": "top"},
 "resolve": {"axis": {"x": "independent", "y": "independent"}},
 "layer": [
  {"transform": [{"filter": "datum.run !== 'main'"}],
   "mark": {"type": "line", "strokeWidth": 1.5, "opacity": 0.25, "clip": true, "interpolate": "monotone"},
   "encoding": {
    "x": {"field": "t", "type": "quantitative", "scale": {"domain": [-5, 12], "nice": false, "zero": false}, "axis": {"orient": "bottom", "values": [-4,-3,-2,-1,1,2,3,4,6,7,8,9,11], "labels": false, "tickSize": -4, "title": null}},
    "y": {"field": "L", "type": "quantitative", "scale": {"domain": [42.78, 45], "nice": false, "zero": false}, "axis": {"orient": "left", "values": [42.8,43.2,43.4,43.6,43.8,44.2,44.4,44.6,44.8], "labels": false, "tickSize": -4, "title": null}},
    "color": {"field": "series", "type": "nominal", "scale": {"domain": ["K8","O8","C","B"], "range": ["#000000","#ff8c00","#00ffff","#0000ff"]}, "legend": {"title": null, "rowPadding": 2, "offset": 12, "labelFont": "Liberation Serif, DejaVu Serif, serif", "labelExpr": "datum.label === 'K8' ? 'RSG1L4.5, 8 × 10⁵⁰ erg' : datum.label === 'O8' ? 'RSG2L4.9, 8 × 10⁵⁰ erg' : datum.label === 'C' ? 'M12.7_R719_E0.84 (1D)' : 'M10.2_R850_E0.65 (1D)'", "encode": {"symbols": {"update": {"opacity": {"value": 1}, "strokeWidth": {"value": 4.5}}}}}},
    "detail": {"field": "run"}
   }},
  {"transform": [{"filter": "datum.run === 'main'"}],
   "mark": {"type": "line", "strokeWidth": 4.5, "clip": true, "interpolate": "monotone"},
   "encoding": {
    "x": {"field": "t", "type": "quantitative", "axis": {"orient": "bottom", "values": [-5,0,5,10], "labels": false, "tickSize": -7, "title": null}},
    "y": {"field": "L", "type": "quantitative", "axis": {"orient": "left", "values": [43,44,45], "tickSize": -7, "labelOffset": 3, "title": "log(Lbol/erg s⁻¹)", "titlePadding": 20}},
    "color": {"field": "series", "type": "nominal", "legend": {"title": null, "rowPadding": 2, "offset": 12, "labelFont": "Liberation Serif, DejaVu Serif, serif", "labelExpr": "datum.label === 'K8' ? 'RSG1L4.5, 8 × 10⁵⁰ erg' : datum.label === 'O8' ? 'RSG2L4.9, 8 × 10⁵⁰ erg' : datum.label === 'C' ? 'M12.7_R719_E0.84 (1D)' : 'M10.2_R850_E0.65 (1D)'", "encode": {"symbols": {"update": {"opacity": {"value": 1}, "strokeWidth": {"value": 4.5}}}}}}
   }},
  {"transform": [{"filter": "datum.run === 'main'"}],
   "mark": {"type": "line", "opacity": 0},
   "encoding": {
    "x": {"field": "t", "type": "quantitative", "axis": {"orient": "top", "values": [-4,-3,-2,-1,1,2,3,4,6,7,8,9,11], "labels": false, "tickSize": -4, "title": null}},
    "y": {"field": "L", "type": "quantitative", "axis": {"orient": "right", "values": [42.8,43.2,43.4,43.6,43.8,44.2,44.4,44.6,44.8], "labels": false, "tickSize": -4, "title": null}}
   }},
  {"transform": [{"filter": "datum.run === 'main'"}],
   "mark": {"type": "line", "opacity": 0},
   "encoding": {
    "x": {"field": "t", "type": "quantitative", "axis": {"orient": "top", "values": [-5,0,5,10], "labels": false, "tickSize": -7, "title": null}},
    "y": {"field": "L", "type": "quantitative", "axis": {"orient": "right", "values": [43,44,45], "labels": false, "tickSize": -7, "title": null}}
   }}
 ]
},
{
 "width": 594, "height": 282,
 "data": {"name": "bot"},
 "resolve": {"axis": {"x": "independent", "y": "independent"}},
 "layer": [
  {"transform": [{"filter": "datum.run !== 'main'"}],
   "mark": {"type": "line", "strokeWidth": 1.5, "opacity": 0.22, "clip": true, "interpolate": "monotone"},
   "encoding": {
    "x": {"field": "t", "type": "quantitative", "scale": {"domain": [-5, 12], "nice": false, "zero": false}, "axis": {"orient": "bottom", "values": [-4,-3,-2,-1,1,2,3,4,6,7,8,9,11], "labels": false, "tickSize": -4, "title": null}},
    "y": {"field": "L", "type": "quantitative", "scale": {"domain": [-0.08, 3.2], "nice": false, "zero": false}, "axis": {"orient": "left", "values": [0.2,0.4,0.6,0.8,1.2,1.4,1.6,1.8,2.2,2.4,2.6,2.8], "labels": false, "tickSize": -4, "title": null}},
    "color": {"field": "series", "type": "nominal", "scale": {"domain": ["R16","K8","F4","G"], "range": ["#b22222","#000000","#ff4500","#cccccc"]}, "legend": {"title": null, "rowPadding": 8, "offset": 15, "labelFont": "Liberation Serif, DejaVu Serif, serif", "labelExpr": "datum.label === 'R16' ? 'RSG1L4.5, 1.6 × 10⁵¹ erg' : datum.label === 'K8' ? 'RSG1L4.5, 8 × 10⁵⁰ erg' : datum.label === 'F4' ? 'RSG1L4.5, 4 × 10⁵⁰ erg' : '4πr²F(θ, ϕ)'", "encode": {"symbols": {"update": {"opacity": {"value": 1}, "strokeWidth": {"signal": "datum.value === 'G' ? 2 : 4.5"}}}}}},
    "detail": {"field": "run"}
   }},
  {"transform": [{"filter": "datum.run === 'main'"}],
   "mark": {"type": "line", "strokeWidth": 4.5, "clip": true, "interpolate": "monotone"},
   "encoding": {
    "x": {"field": "t", "type": "quantitative", "axis": {"orient": "bottom", "values": [-5,0,5,10], "tickSize": -7, "title": "Time since max Lbol [hours]", "labelPadding": 11, "titlePadding": 8}},
    "y": {"field": "L", "type": "quantitative", "axis": {"orient": "left", "values": [0,1,2,3], "tickSize": -7, "labelOffset": 0, "title": "Lbol [10⁴⁴erg s⁻¹]", "titlePadding": 20}},
    "color": {"field": "series", "type": "nominal", "legend": {"title": null, "rowPadding": 8, "offset": 15, "labelFont": "Liberation Serif, DejaVu Serif, serif", "labelExpr": "datum.label === 'R16' ? 'RSG1L4.5, 1.6 × 10⁵¹ erg' : datum.label === 'K8' ? 'RSG1L4.5, 8 × 10⁵⁰ erg' : datum.label === 'F4' ? 'RSG1L4.5, 4 × 10⁵⁰ erg' : '4πr²F(θ, ϕ)'", "encode": {"symbols": {"update": {"opacity": {"value": 1}, "strokeWidth": {"signal": "datum.value === 'G' ? 2 : 4.5"}}}}}}
   }},
  {"transform": [{"filter": "datum.run === 'main'"}],
   "mark": {"type": "line", "opacity": 0},
   "encoding": {
    "x": {"field": "t", "type": "quantitative", "axis": {"orient": "top", "values": [-4,-3,-2,-1,1,2,3,4,6,7,8,9,11], "labels": false, "tickSize": -4, "title": null}},
    "y": {"field": "L", "type": "quantitative", "axis": {"orient": "right", "values": [0.2,0.4,0.6,0.8,1.2,1.4,1.6,1.8,2.2,2.4,2.6,2.8], "labels": false, "tickSize": -4, "title": null}}
   }},
  {"transform": [{"filter": "datum.run === 'main'"}],
   "mark": {"type": "line", "opacity": 0},
   "encoding": {
    "x": {"field": "t", "type": "quantitative", "axis": {"orient": "top", "values": [-5,0,5,10], "labels": false, "tickSize": -7, "title": null}},
    "y": {"field": "L", "type": "quantitative", "axis": {"orient": "right", "values": [0,1,2,3], "labels": false, "tickSize": -7, "title": null}}
   }}
 ]
}
]
}
